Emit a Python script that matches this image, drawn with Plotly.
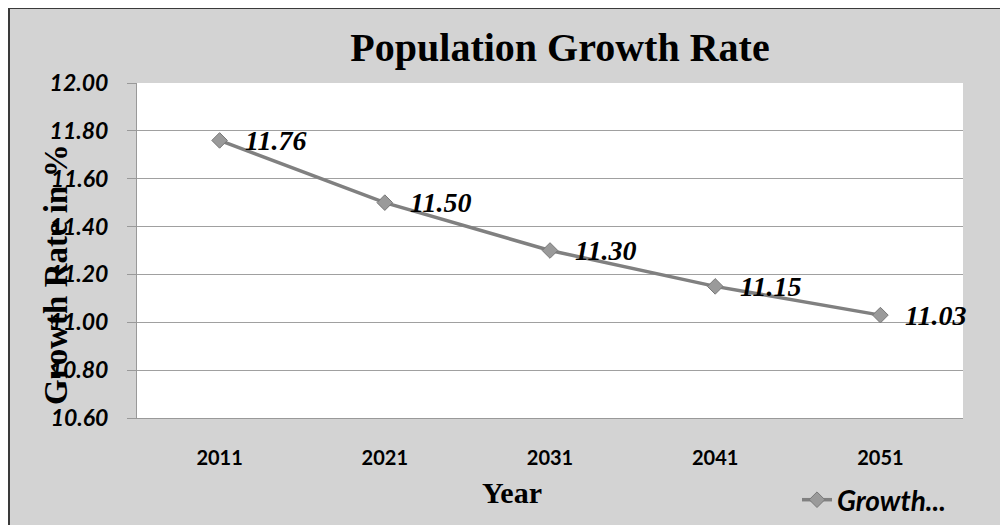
import plotly.graph_objects as go

# data
years = ["2011", "2021", "2031", "2041", "2051"]
growth_rate = [11.76, 11.50, 11.30, 11.15, 11.03]
y_ticks = [10.60, 10.80, 11.00, 11.20, 11.40, 11.60, 11.80, 12.00]

W, H = 1008, 525
# plot area in figure pixels (page has an 8px body margin)
L, R, T, B = 129, 955, 75, 410


def px_x(x):
    return (x - L) / (R - L)


def px_y(y):
    return (B - y) / (B - T)


serif = "Liberation Serif"
sans = "Lato"

fig = go.Figure()

fig.add_trace(
    go.Scatter(
        x=years,
        y=growth_rate,
        name="Growth...",
        mode="lines+markers",
        line=dict(color="#808080", width=3.5),
        marker=dict(symbol="diamond", size=12, color="#9a9a9a",
                    line=dict(color="#787878", width=1)),
    )
)

# data labels (category axis -> use category index)
for i, v in enumerate(growth_rate):
    fig.add_annotation(
        x=i, y=v, text=f"{v:.2f}", showarrow=False,
        xanchor="left", yanchor="middle", xshift=23,
        font=dict(family=serif, size=28, color="black", weight="bold", style="italic"),
    )

# y axis title (overlaps tick labels like the original)
fig.add_annotation(
    xref="paper", yref="paper", x=px_x(48), y=px_y(267),
    text="Growth Rate in %", textangle=-90, showarrow=False,
    xanchor="center", yanchor="middle",
    font=dict(family=serif, size=33, color="black", weight="bold"),
)

# x axis title
fig.add_annotation(
    xref="paper", yref="paper", x=px_x(504), y=px_y(484),
    text="Year", showarrow=False, xanchor="center", yanchor="middle",
    font=dict(family=serif, size=30, color="black", weight="bold"),
)

# dark outer border (left and top)
fig.add_shape(type="line", xref="paper", yref="paper",
              x0=px_x(1), x1=px_x(1), y0=px_y(0), y1=px_y(H + 5),
              line=dict(color="#3a3a3a", width=2), layer="above")
fig.add_shape(type="line", xref="paper", yref="paper",
              x0=px_x(0), x1=px_x(W + 5), y0=px_y(0), y1=px_y(0),
              line=dict(color="#3a3a3a", width=2), layer="above")

fig.update_layout(
    width=W, height=H,
    margin=dict(l=L, r=W - R, t=T, b=H - B, autoexpand=False),
    paper_bgcolor="#d3d3d3",
    plot_bgcolor="white",
    title=dict(
        text="Population Growth Rate",
        x=552 / W, xanchor="center",
        y=1 - 39 / H, yanchor="middle", yref="container",
        font=dict(family=serif, size=40, color="black", weight="bold"),
    ),
    showlegend=True,
    legend=dict(
        xref="container", yref="container",
        x=789 / W, y=1 - 492 / H, xanchor="left", yanchor="middle",
        bgcolor="rgba(0,0,0,0)",
        font=dict(family=sans, size=28, color="black", weight="bold", style="italic"),
    ),
)

fig.update_xaxes(
    type="category",
    range=[-0.5, 4.5],
    showgrid=False,
    showline=True, linecolor="#999999", linewidth=1,
    ticks="",
    ticklabelstandoff=22,
    tickfont=dict(family=sans, size=20, color="black", weight="bold"),
)

fig.update_yaxes(
    range=[10.6, 12.0],
    tickvals=y_ticks,
    tickformat=".2f",
    showgrid=True, gridcolor="#a0a0a0", gridwidth=1,
    showline=True, linecolor="#999999", linewidth=1,
    ticks="outside", ticklen=9, tickcolor="#999999",
    ticklabelstandoff=14,
    zeroline=False,
    tickfont=dict(family=sans, size=23, color="black", weight="bold", style="italic"),
)

fig.write_html("out.html")
